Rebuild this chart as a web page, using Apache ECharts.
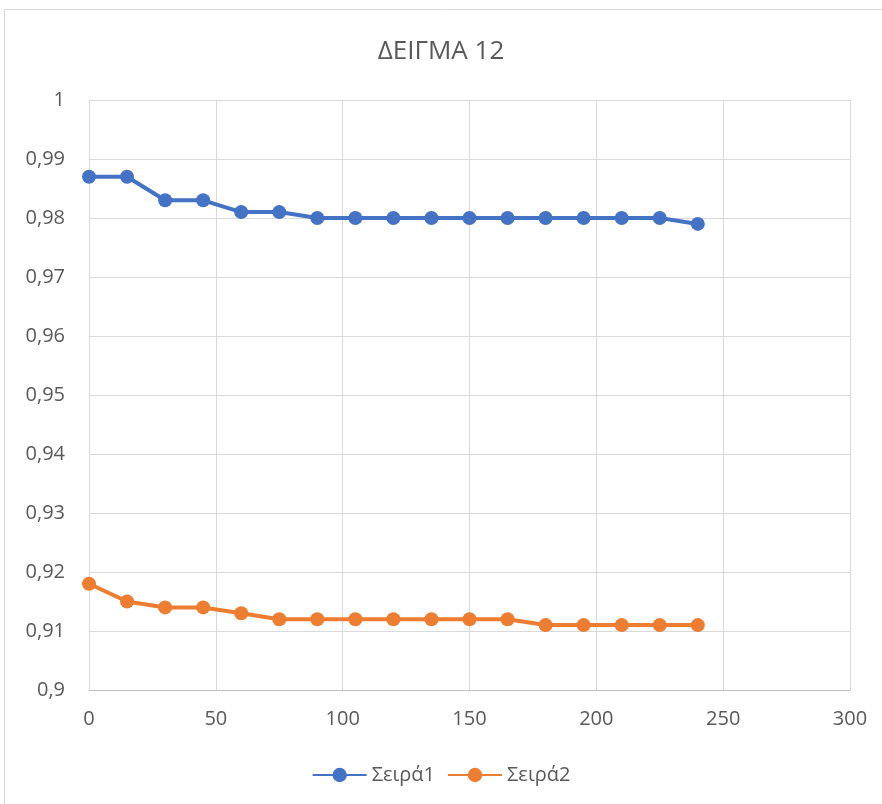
<!DOCTYPE html>
<html><head><meta charset="utf-8">
<script src="https://cdn.jsdelivr.net/npm/echarts@6/dist/echarts.min.js"></script>
<style>html,body{margin:0;padding:0;background:#fff}#c{width:882px;height:804px}</style>
</head><body><div id="c"></div>
<script>
var xValues = [0,15,30,45,60,75,90,105,120,135,150,165,180,195,210,225,240];
var series1 = [0.987,0.987,0.983,0.983,0.981,0.981,0.980,0.980,0.980,0.980,0.980,0.980,0.980,0.980,0.980,0.980,0.979];
var series2 = [0.918,0.915,0.914,0.914,0.913,0.912,0.912,0.912,0.912,0.912,0.912,0.912,0.911,0.911,0.911,0.911,0.911];
var seriesNames = ['Σειρά1','Σειρά2'];
var titleText = 'ΔΕΙΓΜΑ 12';

function pairs(v){ return xValues.map(function(x,i){ return [x, v[i]]; }); }
var font = 'Open Sans, Noto Sans, sans-serif';
var chart = echarts.init(document.getElementById('c'), null, {renderer:'canvas'});
chart.setOption({
  animation:false,
  backgroundColor:'#fff',
  graphic:[{type:'rect', shape:{x:4.5,y:9.5,width:900,height:900}, style:{fill:'none', stroke:'#d9d9d9', lineWidth:1}, silent:true}],
  title:{text:titleText, left:'center', top:34, textStyle:{fontFamily:font, fontSize:26, fontWeight:'normal', color:'#595959'}},
  legend:{top:760, left:'center', itemWidth:54, itemHeight:18, itemGap:12,
    textStyle:{fontFamily:font, fontSize:20, color:'#595959'}, data:seriesNames},
  grid:{left:89, right:32, top:100, bottom:114, containLabel:false},
  xAxis:{type:'value', min:0, max:300, interval:50,
    axisLine:{show:true, lineStyle:{color:'#bfbfbf', width:1}}, axisTick:{show:false},
    axisLabel:{fontFamily:font, fontSize:20, color:'#595959', margin:19},
    splitLine:{show:true, lineStyle:{color:'#d9d9d9', width:1}}},
  yAxis:{type:'value', min:0.9, max:1, interval:0.01,
    axisLine:{show:false}, axisTick:{show:false},
    axisLabel:{fontFamily:font, fontSize:20, color:'#595959', margin:24,
      formatter:function(v){ return String(+v.toFixed(2)).replace('.',','); }},
    splitLine:{show:true, lineStyle:{color:'#d9d9d9', width:1}}},
  series:[
    {name:seriesNames[0], type:'line', data:pairs(series1), symbol:'circle', symbolSize:14,
      lineStyle:{color:'#4472c4', width:4}, itemStyle:{color:'#4472c4'}},
    {name:seriesNames[1], type:'line', data:pairs(series2), symbol:'circle', symbolSize:14,
      lineStyle:{color:'#ed7d31', width:4}, itemStyle:{color:'#ed7d31'}}
  ]
});
</script></body></html>
